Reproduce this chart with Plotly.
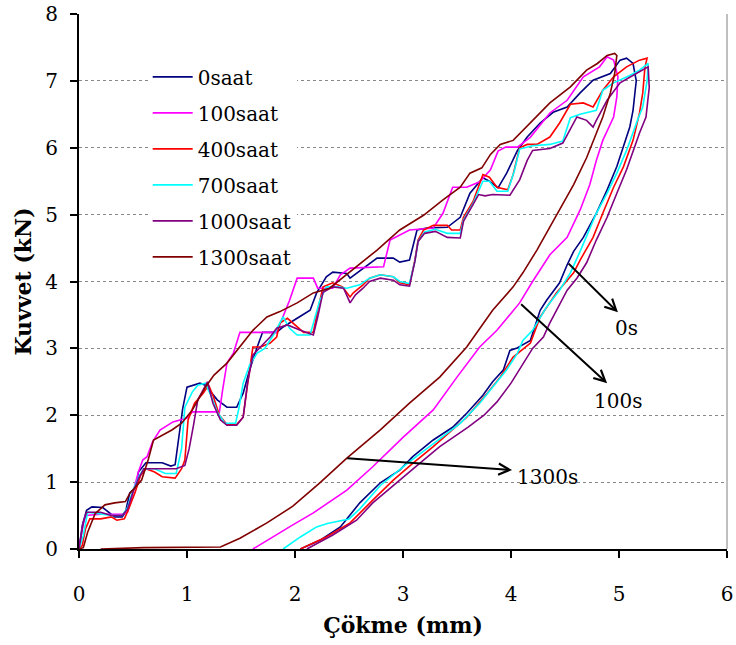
import plotly.graph_objects as go

# ---------------- data ----------------
series_names = ["0saat", "100saat", "400saat", "700saat", "1000saat", "1300saat"]
series_colors = ["#000080", "#FF00FF", "#FF0000", "#00FFFF", "#800080", "#800000"]

x_0saat = [0, 0.03, 0.07, 0.12, 0.22, 0.27, 0.33, 0.40, 0.43, 0.47, 0.53, 0.55, 0.59, 0.62, 0.77, 0.85, 0.89, 0.92, 0.96, 1.00, 1.06, 1.12, 1.17, 1.28, 1.37, 1.46, 1.52, 1.58, 1.65, 1.70, 1.83, 1.89, 2.02, 2.14, 2.20, 2.29, 2.35, 2.48, 2.51, 2.63, 2.76, 2.91, 2.97, 3.06, 3.13, 3.22, 3.41, 3.53, 3.62, 3.74, 3.80, 3.88, 3.96, 4.06, 4.15, 4.27, 4.39, 4.52, 4.64, 4.76, 4.92, 5.01, 5.07, 5.13, 5.16,
            5.15, 5.13, 5.10, 5.04, 4.98, 4.89, 4.79, 4.67, 4.58, 4.52, 4.45, 4.33, 4.27, 4.18, 4.05, 3.99, 3.93, 3.83, 3.74, 3.59, 3.46, 3.28, 3.09, 2.97, 2.79, 2.60, 2.42, 2.23, 2.05]
y_0saat = [0, 0.35, 0.58, 0.63, 0.62, 0.55, 0.48, 0.48, 0.55, 0.84, 0.93, 1.15, 1.23, 1.29, 1.29, 1.24, 1.26, 1.60, 2.10, 2.42, 2.45, 2.48, 2.45, 2.23, 2.12, 2.12, 2.33, 2.68, 3.02, 3.24, 3.24, 3.32, 3.45, 3.57, 3.83, 4.07, 4.14, 4.12, 4.05, 4.20, 4.35, 4.35, 4.29, 4.32, 4.77, 4.80, 4.81, 4.96, 5.32, 5.55, 5.50, 5.40, 5.62, 5.96, 6.16, 6.37, 6.53, 6.61, 6.82, 7.01, 7.11, 7.31, 7.34, 7.26, 7.00,
            6.86, 6.56, 6.31, 6.00, 5.72, 5.37, 5.02, 4.66, 4.45, 4.25, 3.98, 3.72, 3.57, 3.12, 3.00, 2.97, 2.68, 2.50, 2.30, 2.03, 1.82, 1.63, 1.38, 1.18, 0.99, 0.69, 0.33, 0.13, 0.00]

x_100saat = [0, 0.03, 0.06, 0.20, 0.40, 0.45, 0.50, 0.55, 0.59, 0.63, 0.68, 0.75, 0.87, 1.00, 1.05, 1.30, 1.33, 1.37, 1.43, 1.49, 1.83, 1.89, 1.95, 2.02, 2.17, 2.21, 2.35, 2.42, 2.51, 2.82, 2.88, 3.06, 3.28, 3.37, 3.46, 3.59, 3.71, 3.81, 3.88, 3.95, 4.06, 4.18, 4.36, 4.52, 4.67, 4.82, 4.89, 4.95,
             4.99, 4.98, 4.95, 4.85, 4.79, 4.73, 4.64, 4.52, 4.36, 4.20, 4.08, 3.87, 3.71, 3.50, 3.28, 3.00, 2.72, 2.48, 2.17, 1.98, 1.80, 1.61]
y_100saat = [0, 0.30, 0.50, 0.52, 0.52, 0.55, 0.85, 1.15, 1.33, 1.38, 1.60, 1.78, 1.90, 1.96, 2.05, 2.05, 2.38, 2.78, 2.93, 3.24, 3.24, 3.47, 3.72, 4.05, 4.05, 3.90, 3.90, 4.10, 4.20, 4.22, 4.62, 4.77, 4.80, 5.02, 5.41, 5.41, 5.49, 5.67, 5.95, 6.01, 6.01, 6.16, 6.52, 6.71, 7.06, 7.21, 7.36, 7.31,
             7.06, 6.76, 6.46, 6.11, 5.81, 5.45, 5.07, 4.66, 4.40, 4.00, 3.68, 3.27, 3.02, 2.57, 2.08, 1.67, 1.23, 0.88, 0.54, 0.36, 0.18, 0.00]

x_400saat = [0, 0.03, 0.06, 0.10, 0.20, 0.30, 0.35, 0.42, 0.46, 0.52, 0.57, 0.62, 0.70, 0.77, 0.89, 0.95, 0.98, 1.01, 1.07, 1.15, 1.20, 1.24, 1.30, 1.37, 1.46, 1.52, 1.56, 1.61, 1.68, 1.77, 1.83, 1.86, 1.93, 2.02, 2.08, 2.17, 2.21, 2.26, 2.35, 2.44, 2.51, 2.54, 2.63, 2.69, 2.79, 2.91, 2.97, 3.06, 3.11, 3.14, 3.19, 3.28, 3.41, 3.45, 3.53, 3.56, 3.65, 3.74, 3.80, 3.87, 3.97, 4.02, 4.08, 4.15, 4.24, 4.36, 4.45, 4.55, 4.67, 4.76, 4.85, 4.95, 5.07, 5.19, 5.26, 5.24,
             5.22, 5.19, 5.13, 5.04, 4.95, 4.85, 4.76, 4.64, 4.58, 4.42, 4.27, 4.18, 4.02, 3.90, 3.78, 3.59, 3.46, 3.28, 3.09, 2.91, 2.72, 2.51, 2.29, 2.05]
y_400saat = [0, 0.05, 0.30, 0.45, 0.45, 0.48, 0.43, 0.45, 0.60, 0.85, 1.10, 1.20, 1.15, 1.08, 1.06, 1.20, 1.33, 1.93, 2.18, 2.33, 2.45, 2.30, 2.00, 1.86, 1.86, 1.97, 2.45, 3.02, 3.02, 3.08, 3.17, 3.38, 3.45, 3.32, 3.24, 3.24, 3.57, 3.92, 3.98, 3.92, 3.77, 3.83, 3.95, 4.05, 4.10, 4.07, 3.98, 3.95, 4.32, 4.62, 4.77, 4.84, 4.84, 4.77, 4.77, 4.96, 5.20, 5.60, 5.56, 5.41, 5.37, 5.60, 6.00, 6.05, 6.05, 6.16, 6.37, 6.65, 6.67, 6.61, 6.86, 7.06, 7.21, 7.31, 7.34, 7.20,
             6.82, 6.52, 6.11, 5.71, 5.41, 5.02, 4.66, 4.32, 4.13, 3.83, 3.47, 3.08, 2.87, 2.57, 2.33, 1.97, 1.78, 1.53, 1.28, 1.03, 0.73, 0.39, 0.18, 0.00]

x_700saat = [0, 0.04, 0.08, 0.20, 0.30, 0.40, 0.45, 0.50, 0.56, 0.60, 0.70, 0.80, 0.90, 0.95, 0.98, 1.05, 1.10, 1.17, 1.22, 1.28, 1.35, 1.45, 1.48, 1.52, 1.58, 1.65, 1.72, 1.80, 1.89, 1.95, 2.02, 2.14, 2.23, 2.29, 2.40, 2.48, 2.54, 2.60, 2.69, 2.79, 2.91, 2.97, 3.06, 3.11, 3.14, 3.20, 3.30, 3.41, 3.53, 3.56, 3.65, 3.74, 3.80, 3.87, 3.97, 4.03, 4.08, 4.20, 4.36, 4.48, 4.55, 4.64, 4.79, 4.85, 4.95, 5.10, 5.19, 5.27, 5.26,
             5.22, 5.18, 5.13, 5.07, 4.98, 4.89, 4.79, 4.70, 4.64, 4.55, 4.45, 4.33, 4.20, 4.11, 4.06, 3.96, 3.83, 3.71, 3.53, 3.28, 3.04, 2.79, 2.60, 2.50, 2.30, 2.20, 2.05, 1.89]
y_700saat = [0, 0.20, 0.55, 0.52, 0.50, 0.50, 0.62, 0.88, 1.10, 1.20, 1.20, 1.13, 1.13, 1.50, 2.12, 2.35, 2.45, 2.48, 2.30, 2.05, 1.88, 1.88, 2.10, 2.48, 2.75, 2.93, 3.00, 3.20, 3.47, 3.30, 3.20, 3.20, 3.72, 3.92, 3.92, 3.90, 3.92, 3.95, 4.05, 4.10, 4.07, 4.00, 3.97, 4.30, 4.60, 4.74, 4.78, 4.72, 4.72, 4.92, 5.17, 5.50, 5.50, 5.35, 5.35, 5.65, 5.98, 6.03, 6.05, 6.10, 6.45, 6.50, 6.56, 6.86, 6.97, 7.08, 7.16, 7.26, 7.00,
             6.61, 6.45, 6.22, 5.96, 5.62, 5.32, 5.02, 4.66, 4.45, 4.13, 3.87, 3.62, 3.27, 3.12, 2.93, 2.68, 2.42, 2.18, 1.88, 1.58, 1.28, 0.95, 0.60, 0.45, 0.38, 0.33, 0.18, 0.00]

x_1000saat = [0, 0.04, 0.07, 0.20, 0.30, 0.40, 0.45, 0.50, 0.55, 0.60, 0.75, 0.90, 0.98, 1.02, 1.06, 1.10, 1.19, 1.24, 1.31, 1.37, 1.46, 1.52, 1.56, 1.61, 1.68, 1.77, 1.83, 1.93, 2.05, 2.17, 2.21, 2.26, 2.35, 2.45, 2.51, 2.56, 2.63, 2.69, 2.79, 2.91, 2.97, 3.06, 3.11, 3.14, 3.20, 3.30, 3.41, 3.53, 3.56, 3.65, 3.70, 3.76, 3.83, 3.99, 4.08, 4.15, 4.20, 4.36, 4.48, 4.61, 4.70, 4.76, 4.79, 4.89, 5.01, 5.16, 5.27, 5.28,
              5.25, 5.19, 5.13, 5.07, 4.98, 4.89, 4.79, 4.70, 4.61, 4.52, 4.36, 4.30, 4.20, 4.08, 4.00, 3.87, 3.75, 3.60, 3.34, 3.19, 2.97, 2.72, 2.57, 2.35, 2.11]
y_1000saat = [0, 0.40, 0.55, 0.55, 0.50, 0.50, 0.60, 0.85, 1.05, 1.20, 1.20, 1.20, 1.25, 1.50, 1.85, 2.23, 2.50, 2.18, 1.93, 1.85, 1.85, 1.97, 2.48, 2.90, 3.02, 3.17, 3.30, 3.35, 3.27, 3.20, 3.47, 3.84, 3.92, 3.90, 3.68, 3.80, 3.90, 4.00, 4.05, 4.02, 3.95, 3.93, 4.30, 4.60, 4.72, 4.75, 4.66, 4.65, 4.90, 5.15, 5.30, 5.28, 5.30, 5.29, 5.52, 5.81, 5.96, 5.99, 6.07, 6.46, 6.41, 6.31, 6.41, 6.71, 6.97, 7.11, 7.21, 6.90,
              6.46, 6.22, 5.96, 5.67, 5.32, 4.96, 4.62, 4.28, 4.05, 3.87, 3.38, 3.17, 3.00, 2.70, 2.48, 2.20, 2.00, 1.82, 1.53, 1.33, 1.03, 0.69, 0.43, 0.21, 0.00]

x_1300saat = [0, 0.04, 0.08, 0.15, 0.24, 0.33, 0.43, 0.47, 0.58, 0.64, 0.69, 0.77, 0.86, 0.95, 1.05, 1.17, 1.25, 1.37, 1.49, 1.61, 1.74, 1.86, 2.02, 2.17, 2.32, 2.51, 2.76, 2.97, 3.19, 3.37, 3.53, 3.62, 3.73, 3.81, 3.90, 4.02, 4.18, 4.36, 4.55, 4.70, 4.80, 4.89, 4.96, 4.98,
              4.96, 4.92, 4.85, 4.79, 4.70, 4.58, 4.45, 4.36, 4.24, 4.11, 4.02, 3.83, 3.59, 3.34, 3.06, 2.79, 2.48, 2.23, 1.98, 1.74, 1.49, 1.31, 1.00, 0.60, 0.20]
y_1300saat = [0, 0.02, 0.25, 0.53, 0.66, 0.69, 0.71, 0.83, 1.03, 1.33, 1.63, 1.70, 1.78, 1.88, 2.08, 2.42, 2.60, 2.78, 3.02, 3.27, 3.47, 3.55, 3.68, 3.83, 3.90, 4.15, 4.47, 4.77, 4.99, 5.22, 5.41, 5.62, 5.70, 5.90, 6.05, 6.11, 6.37, 6.67, 6.91, 7.16, 7.26, 7.38, 7.41, 7.38,
              7.11, 6.82, 6.46, 6.22, 5.85, 5.45, 5.07, 4.81, 4.47, 4.13, 3.92, 3.57, 3.02, 2.57, 2.18, 1.78, 1.36, 0.99, 0.64, 0.39, 0.16, 0.03, 0.03, 0.02, 0.00]

x_values = [x_0saat, x_100saat, x_400saat, x_700saat, x_1000saat, x_1300saat]
y_values = [y_0saat, y_100saat, y_400saat, y_700saat, y_1000saat, y_1300saat]

tick_vals_x = [0, 1, 2, 3, 4, 5, 6]
tick_vals_y = [0, 1, 2, 3, 4, 5, 6, 7, 8]

# annotation arrows
arrow_labels = ["0s", "100s", "1300s"]
arrow_text_x = [5.07, 4.99, 4.34]
arrow_text_y = [3.30, 2.21, 1.07]
arrow_tail_x = [4.52, 4.08, 2.47]
arrow_tail_y = [4.29, 3.68, 1.36]
arrow_head_x = [4.99, 4.89, 4.01]
arrow_head_y = [3.54, 2.48, 1.18]

FONT = "DejaVu Serif"

fig = go.Figure()
for name, color, xs, ys in zip(series_names, series_colors, x_values, y_values):
    fig.add_trace(go.Scatter(x=xs, y=ys, mode="lines", name=name, legendgroup=name,
                             line=dict(color=color, width=1.6)))

for lab, tx, ty, ax, ay, hx, hy in zip(arrow_labels, arrow_text_x, arrow_text_y,
                                       arrow_tail_x, arrow_tail_y, arrow_head_x, arrow_head_y):
    fig.add_annotation(x=hx, y=hy, ax=ax, ay=ay, xref="x", yref="y", axref="x", ayref="y",
                       text="", showarrow=True, arrowhead=5, arrowsize=1.1, arrowwidth=2,
                       arrowcolor="black", standoff=0, startstandoff=0)
    fig.add_annotation(x=tx, y=ty, xref="x", yref="y", text=lab, showarrow=False,
                       font=dict(family=FONT, size=20, color="black"))

fig.add_shape(type="line", xref="paper", yref="paper", x0=1, x1=1, y0=0, y1=1,
              line=dict(color="#808080", width=1))

fig.update_layout(
    width=736, height=645,
    margin=dict(l=79, r=9, t=14, b=96, autoexpand=False),
    paper_bgcolor="white", plot_bgcolor="white",
    font=dict(family=FONT, size=20, color="black"),
    showlegend=True,
    legend=dict(x=0.106, y=0.919, xanchor="left", yanchor="top",
                bgcolor="white", borderwidth=0, itemwidth=40,
                tracegroupgap=7, font=dict(family=FONT, size=20, color="black")),
)
fig.update_xaxes(range=[0, 6], tickvals=tick_vals_x, showline=True, linecolor="black", linewidth=2,
                 ticks="outside", ticklen=7, tickwidth=2, tickcolor="black", showgrid=False,
                 zeroline=False, ticklabelstandoff=19, automargin=False,
                 tickfont=dict(family=FONT, size=20),
                 title=dict(text="<b>Çökme (mm)</b>", font=dict(family=FONT, size=22), standoff=13))
fig.update_yaxes(range=[0, 8], tickvals=tick_vals_y, showline=True, linecolor="black", linewidth=2,
                 ticks="outside", ticklen=7, tickwidth=2, tickcolor="black",
                 showgrid=True, gridcolor="#888888", griddash="dot", gridwidth=1,
                 zeroline=False, ticklabelstandoff=8, automargin=False,
                 tickfont=dict(family=FONT, size=20),
                 title=dict(text="<b>Kuvvet (kN)</b>", font=dict(family=FONT, size=22), standoff=8))

fig.write_html("out.html")
